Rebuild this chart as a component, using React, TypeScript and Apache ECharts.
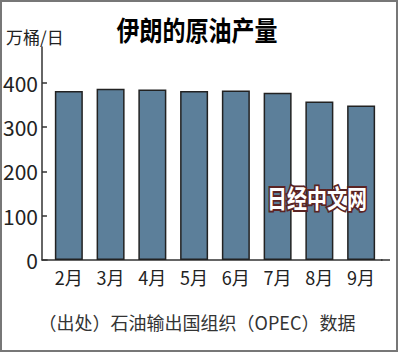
import React, { useEffect, useRef } from "react";
import * as echarts from "echarts";

const months = ["2月", "3月", "4月", "5月", "6月", "7月", "8月", "9月"];
const production = [381, 386, 384, 381, 382, 377, 357, 348];
const yTicks = [0, 100, 200, 300, 400];
const titleText = "伊朗的原油产量";
const unitText = "万桶/日";
const sourceText = "（出处）石油输出国组织（OPEC）数据";
const watermarkText = "日经中文网";

const FONT = '"Noto Sans CJK SC", "Noto Sans", sans-serif';

export default function App() {
  const ref = useRef<HTMLDivElement>(null);
  useEffect(() => {
    if (!ref.current) return;
    const chart = echarts.init(ref.current, null, { renderer: "svg" });
    chart.setOption({
      animation: false,
      backgroundColor: "#ffffff",
      grid: { left: 47.6, right: 18, top: 47, bottom: 93, containLabel: false },
      xAxis: {
        type: "category",
        data: months,
        boundaryGap: true,
        axisLine: { show: true, lineStyle: { color: "#333", width: 1.5 } },
        axisTick: { show: false },
        axisLabel: { color: "#222", fontSize: 18, fontFamily: FONT, margin: 8 },
      },
      yAxis: {
        type: "value",
        min: 0,
        max: 480,
        interval: 100,
        offset: 6,
        splitLine: { show: false },
        axisLine: { show: true, lineStyle: { color: "#333", width: 1.5 } },
        axisTick: {
          show: true,
          inside: true,
          length: 5,
          lineStyle: { color: "#333", width: 1.5 },
          customValues: yTicks,
        },
        axisLabel: {
          color: "#222",
          fontSize: 21,
          fontFamily: FONT,
          margin: 4,
          customValues: yTicks,
        },
      },
      series: [
        {
          type: "bar",
          data: production,
          barWidth: 28,
          itemStyle: { color: "#5c7f9a", borderColor: "#222", borderWidth: 1.5 },
        },
      ],
      graphic: [
        {
          type: "rect",
          z: 100,
          shape: { x: 1, y: 1, width: 396, height: 350 },
          style: { fill: "none", stroke: "#777", lineWidth: 2 },
          silent: true,
        },
        {
          type: "line",
          z: 100,
          shape: { x1: 41.6, y1: 260, x2: 48, y2: 260 },
          style: { stroke: "#333", lineWidth: 1.5 },
        },
        {
          type: "line",
          z: 100,
          shape: { x1: 381, y1: 260, x2: 390, y2: 260 },
          style: { stroke: "#333", lineWidth: 1.5 },
        },
        {
          type: "text",
          z: 100,
          x: 197,
          y: 29,
          scaleY: 1.2,
          style: {
            text: titleText,
            fontSize: 23,
            fontWeight: "bold",
            fontFamily: FONT,
            fill: "#000",
            align: "center",
            verticalAlign: "middle",
          },
        },
        {
          type: "text",
          z: 100,
          x: 6,
          y: 36,
          style: {
            text: unitText,
            fontSize: 17,
            fontFamily: FONT,
            fill: "#222",
            align: "left",
            verticalAlign: "middle",
          },
        },
        {
          type: "text",
          z: 100,
          x: 197,
          y: 322,
          style: {
            text: sourceText,
            fontSize: 18,
            fontFamily: FONT,
            fill: "#333",
            align: "center",
            verticalAlign: "middle",
          },
        },
        {
          type: "text",
          z: 100,
          x: 317,
          y: 198,
          scaleY: 1.25,
          style: {
            text: watermarkText,
            fontSize: 20,
            fontWeight: "bold",
            fontFamily: FONT,
            fill: "none",
            stroke: "#5a2424",
            lineWidth: 3,
            align: "center",
            verticalAlign: "middle",
          },
        },
        {
          type: "text",
          z: 101,
          x: 317,
          y: 198,
          scaleY: 1.25,
          style: {
            text: watermarkText,
            fontSize: 20,
            fontWeight: "bold",
            fontFamily: FONT,
            fill: "#ffffff",
            align: "center",
            verticalAlign: "middle",
          },
        },
      ],
    });
    return () => chart.dispose();
  }, []);
  return (
    <div
      ref={ref}
      style={{ position: "fixed", left: 0, top: 0, width: 400, height: 353 }}
    />
  );
}
